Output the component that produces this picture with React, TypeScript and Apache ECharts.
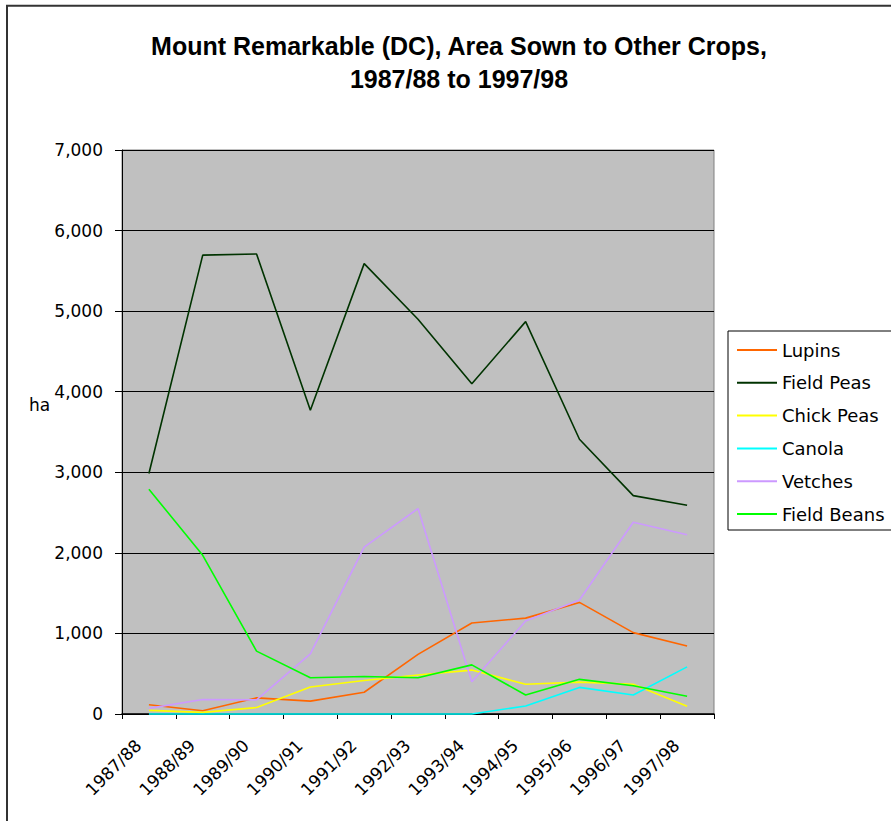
import React, { useEffect, useRef } from "react";
import * as echarts from "echarts";

const titleText = "Mount Remarkable (DC), Area Sown to Other Crops,\n1987/88 to 1997/98";
const categories = ["1987/88", "1988/89", "1989/90", "1990/91", "1991/92", "1992/93", "1993/94", "1994/95", "1995/96", "1996/97", "1997/98"];
const lupins = [115, 40, 200, 160, 270, 740, 1130, 1190, 1385, 1010, 845];
const fieldPeas = [2985, 5695, 5710, 3770, 5590, 4900, 4100, 4870, 3410, 2710, 2590];
const chickPeas = [45, 20, 80, 335, 415, 485, 545, 370, 395, 370, 95];
const canola = [0, 0, 0, 0, 0, 0, 0, 100, 330, 235, 585];
const vetches = [70, 180, 175, 745, 2070, 2550, 400, 1155, 1415, 2380, 2225];
const fieldBeans = [2790, 1970, 780, 450, 465, 450, 610, 235, 430, 350, 220];
const yMin = 0;
const yMax = 7000;
const yInterval = 1000;
const yUnit = "ha";

const seriesDefs = [
  { name: "Lupins", data: lupins, color: "#FF6600" },
  { name: "Field Peas", data: fieldPeas, color: "#003300" },
  { name: "Chick Peas", data: chickPeas, color: "#FFFF00" },
  { name: "Canola", data: canola, color: "#00FFFF" },
  { name: "Vetches", data: vetches, color: "#CC99FF" },
  { name: "Field Beans", data: fieldBeans, color: "#00FF00" },
];

const labelFont = "DejaVu Sans";

export default function App() {
  const ref = useRef<HTMLDivElement>(null);
  useEffect(() => {
    if (!ref.current) return;
    const chart = echarts.init(ref.current, undefined, { renderer: "svg" });
    chart.setOption({
      animation: false,
      backgroundColor: "#ffffff",
      title: {
        text: titleText,
        left: 454,
        top: 24,
        textAlign: "center",
        textStyle: {
          fontFamily: "Arial, 'Liberation Sans', sans-serif",
          fontWeight: "bold",
          fontSize: 25,
          lineHeight: 33,
          color: "#000",
        },
      },
      graphic: [
        {
          type: "rect",
          shape: { x: 7, y: 5.7, width: 1000, height: 1000 },
          style: { fill: "none", stroke: "#333", lineWidth: 2 },
          silent: true,
        },
        {
          type: "text",
          x: 29,
          y: 405,
          style: {
            text: yUnit,
            fontFamily: labelFont,
            fontSize: 17,
            fill: "#000",
            verticalAlign: "middle",
          },
        },
      ],
      legend: {
        orient: "vertical",
        left: 728,
        top: 331,
        padding: [10, 20, 7, 9],
        itemGap: 14.8,
        itemWidth: 40,
        itemHeight: 2,
        icon: "rect",
        borderColor: "#000",
        borderWidth: 1,
        backgroundColor: "#fff",
        textStyle: { fontFamily: labelFont, fontSize: 18, color: "#000" },
        data: seriesDefs.map((s) => s.name),
      },
      grid: {
        left: 122,
        top: 150,
        right: 891 - 714,
        bottom: 821 - 714,
        show: true,
        backgroundColor: "#C0C0C0",
        borderColor: "#808080",
        borderWidth: 1,
        containLabel: false,
      },
      xAxis: {
        type: "category",
        data: categories,
        boundaryGap: true,
        axisLine: { show: true, lineStyle: { color: "#000", width: 1.5 } },
        axisTick: { show: true, length: 5, lineStyle: { color: "#000" } },
        axisLabel: {
          rotate: 45,
          margin: 18,
          padding: [0, 15, 0, 0],
          fontFamily: labelFont,
          fontSize: 17,
          color: "#000",
          interval: 0,
        },
        splitLine: { show: false },
      },
      yAxis: {
        type: "value",
        min: yMin,
        max: yMax,
        interval: yInterval,
        axisLine: { show: true, lineStyle: { color: "#000", width: 1 } },
        axisTick: { show: true, length: 7, lineStyle: { color: "#000" } },
        axisLabel: {
          margin: 19,
          fontFamily: labelFont,
          fontSize: 17,
          color: "#000",
          formatter: (v: number) => v.toLocaleString("en-US"),
        },
        splitLine: { show: true, lineStyle: { color: "#000", width: 1 } },
      },
      series: seriesDefs.map((s) => ({
        name: s.name,
        type: "line",
        data: s.data,
        symbol: "none",
        clip: false,
        color: s.color,
        lineStyle: { color: s.color, width: 1.6 },
      })),
    });
    return () => chart.dispose();
  }, []);
  return (
    <div
      ref={ref}
      style={{ position: "absolute", left: 0, top: 0, width: 891, height: 821 }}
    />
  );
}
